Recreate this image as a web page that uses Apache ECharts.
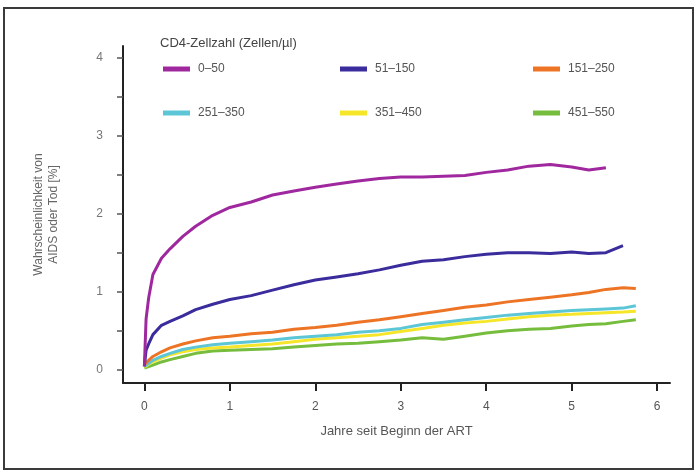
<!DOCTYPE html>
<html>
<head>
<meta charset="utf-8">
<script src="https://cdn.jsdelivr.net/npm/echarts@6/dist/echarts.min.js"></script>
<style>
    html, body { margin: 0; padding: 0; background: #fff; }
    #main { width: 696px; height: 472px; }
</style>
</head>
<body>
<div id="main"></div>
<script type="text/javascript">
    // Jahre seit Beginn der ART (gemeinsame x-Werte)
    var years = [0, 0.02, 0.05, 0.1, 0.2, 0.3, 0.45, 0.6, 0.8, 1.0, 1.25, 1.5, 1.75, 2.0, 2.25,
                 2.5, 2.75, 3.0, 3.25, 3.5, 3.75, 4.0, 4.25, 4.5, 4.75, 5.0, 5.2, 5.4, 5.6, 5.75];

    // Wahrscheinlichkeit [%] je CD4-Gruppe
    var cd4_0_50    = [0.04, 0.65, 0.92, 1.22, 1.43, 1.55, 1.71, 1.84, 1.98, 2.08, 2.15, 2.24, 2.29, 2.34, 2.38,
                       2.42, 2.45, 2.47, 2.47, 2.48, 2.49, 2.53, 2.56, 2.61, 2.63, 2.60, 2.56, 2.59, null, null];
    var cd4_51_150  = [0.05, 0.25, 0.33, 0.45, 0.57, 0.62, 0.69, 0.77, 0.84, 0.90, 0.95, 1.02, 1.09, 1.15, 1.19,
                       1.23, 1.28, 1.34, 1.39, 1.41, 1.45, 1.48, 1.50, 1.50, 1.49, 1.51, 1.49, 1.50, 1.59, null];
    var cd4_151_250 = [0.06, 0.09, 0.12, 0.17, 0.23, 0.28, 0.33, 0.37, 0.41, 0.43, 0.46, 0.48, 0.52, 0.54, 0.57,
                       0.61, 0.64, 0.68, 0.72, 0.76, 0.80, 0.83, 0.87, 0.90, 0.93, 0.96, 0.99, 1.03, 1.05, 1.04];
    var cd4_251_350 = [0.04, 0.06, 0.08, 0.12, 0.17, 0.21, 0.26, 0.29, 0.32, 0.34, 0.36, 0.38, 0.41, 0.43, 0.45,
                       0.48, 0.50, 0.53, 0.58, 0.61, 0.64, 0.67, 0.70, 0.72, 0.74, 0.76, 0.77, 0.78, 0.79, 0.82];
    var cd4_351_450 = [0.03, 0.05, 0.07, 0.10, 0.15, 0.19, 0.23, 0.26, 0.28, 0.29, 0.31, 0.33, 0.36, 0.39, 0.41,
                       0.43, 0.45, 0.49, 0.53, 0.57, 0.60, 0.62, 0.65, 0.68, 0.70, 0.71, 0.72, 0.73, 0.74, 0.75];
    var cd4_451_550 = [0.02, 0.03, 0.04, 0.06, 0.10, 0.13, 0.17, 0.21, 0.24, 0.25, 0.26, 0.27, 0.29, 0.31, 0.33,
                       0.34, 0.36, 0.38, 0.41, 0.39, 0.43, 0.47, 0.50, 0.52, 0.53, 0.56, 0.58, 0.59, 0.62, 0.64];

    var groupNames = ['0–50', '51–150', '151–250', '251–350', '351–450', '451–550'];
    var groupValues = [cd4_0_50, cd4_51_150, cd4_151_250, cd4_251_350, cd4_351_450, cd4_451_550];
    var groupColors = ['#a0289f', '#3a2c9c', '#ee7425', '#5cc6d6', '#f6e629', '#76bd3e'];

    var xTicks = [0, 1, 2, 3, 4, 5, 6];
    var yLabels = [0, 1, 2, 3, 4];
    var yTicks = [0, 0.5, 1, 1.5, 2, 2.5, 3, 3.5, 4];

    var font = "'Liberation Sans', Arial, sans-serif";

    function pairs(vals) {
        var out = [];
        for (var i = 0; i < years.length; i++) {
            if (vals[i] !== null) out.push([years[i], vals[i]]);
        }
        return out;
    }

    var series = [];
    var legends = [];
    var colLeft = [163, 340, 533];
    var rowTop = [63, 107];
    for (var i = 0; i < groupNames.length; i++) {
        series.push({
            name: groupNames[i],
            type: 'line',
            data: pairs(groupValues[i]),
            showSymbol: false,
            color: groupColors[i],
            lineStyle: { width: 3, color: groupColors[i] },
            z: 10 - i
        });
        legends.push({
            data: [groupNames[i]],
            left: colLeft[i % 3],
            top: rowTop[Math.floor(i / 3)],
            padding: 0,
            icon: 'rect',
            itemWidth: 27,
            itemHeight: 5,
            itemGap: 0,
            selectedMode: false,
            textStyle: { fontFamily: font, fontSize: 12, color: '#555', padding: [0, 0, 0, 3] }
        });
    }

    var myChart = echarts.init(document.getElementById('main'));
    var option = {
        animation: false,
        backgroundColor: '#fff',
        title: {
            text: 'CD4-Zellzahl (Zellen/µl)',
            left: 160,
            top: 37,
            padding: 0,
            textStyle: { fontFamily: font, fontSize: 13, fontWeight: 'normal', color: '#444' }
        },
        legend: legends,
        graphic: [{
            type: 'rect',
            shape: { x: 4, y: 8, width: 689, height: 461 },
            style: { fill: 'none', stroke: '#3a3a3a', lineWidth: 2 },
            silent: true
        }],
        grid: { left: 123, right: 26, top: 46, bottom: 89 },
        xAxis: {
            type: 'value',
            min: -0.25,
            max: 6.15,
            name: 'Jahre seit Beginn der ART',
            nameLocation: 'middle',
            nameGap: 42,
            nameTextStyle: { fontFamily: font, fontSize: 13, color: '#555' },
            splitLine: { show: false },
            axisLine: { show: true, onZero: false, lineStyle: { color: '#222', width: 2 } },
            axisTick: { show: true, customValues: xTicks, length: 8, lineStyle: { color: '#222', width: 2 } },
            axisLabel: { customValues: xTicks, margin: 18, fontFamily: font, fontSize: 12, color: '#555' }
        },
        yAxis: {
            type: 'value',
            min: -0.17,
            max: 4.15,
            name: 'Wahrscheinlichkeit von\nAIDS oder Tod [%]',
            nameLocation: 'middle',
            nameGap: 62,
            nameTextStyle: { fontFamily: font, fontSize: 12, color: '#666', lineHeight: 15 },
            splitLine: { show: false },
            axisLine: { show: true, onZero: false, lineStyle: { color: '#222', width: 2 } },
            axisTick: { show: true, customValues: yTicks, length: 6, lineStyle: { color: '#555', width: 1.5 } },
            axisLabel: { customValues: yLabels, margin: 20, fontFamily: font, fontSize: 12, color: '#777' }
        },
        series: series
    };
    myChart.setOption(option);
</script>
</body>
</html>
